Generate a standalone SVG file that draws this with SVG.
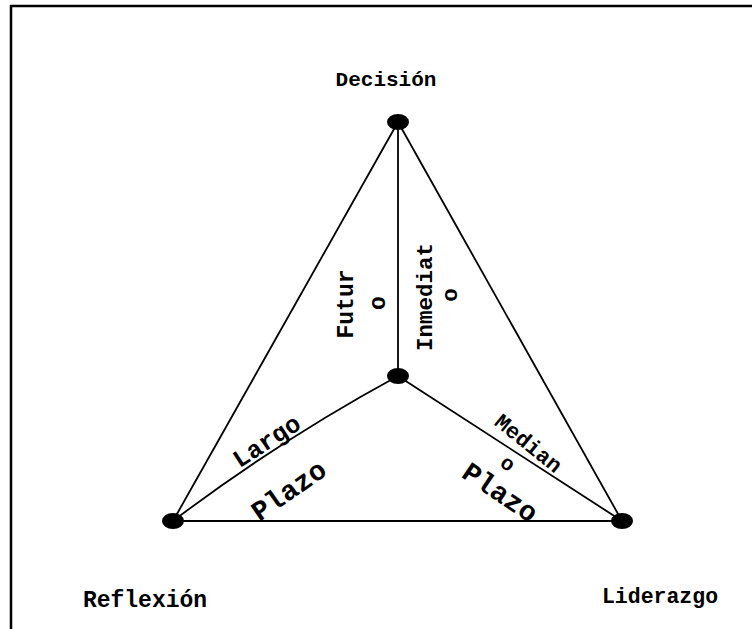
<svg xmlns="http://www.w3.org/2000/svg" width="752" height="629" viewBox="0 0 752 629">
<style>
.t{font-family:"Liberation Mono","Courier New",monospace;font-weight:bold;fill:#000}
.e{stroke:#000;stroke-width:1.8;fill:none}
.n{fill:#000}
</style>
<rect x="0" y="0" width="752" height="629" fill="#fff"/>
<path d="M11,640 V6 H760" fill="none" stroke="#000" stroke-width="2.5"/>
<g id="connectors">
<line class="e" x1="398" y1="122" x2="173" y2="521"/>
<line class="e" x1="398" y1="122" x2="622" y2="521"/>
<line class="e" x1="398" y1="122" x2="398" y2="376"/>
<path class="e" d="M173,521 Q280,440 398,376"/>
<line class="e" x1="398" y1="376" x2="622" y2="521"/>
<line class="e" x1="173" y1="521" x2="622" y2="521" stroke-width="2.5"/>
</g>
<g id="decision">
<ellipse class="n" cx="398" cy="122" rx="11" ry="8"/>
<text class="t" x="386" y="86" font-size="21" text-anchor="middle">Decisión</text>
</g>
<g id="centro">
<ellipse class="n" cx="398" cy="376" rx="11" ry="8"/>
</g>
<g id="reflexion">
<ellipse class="n" cx="173" cy="521" rx="11" ry="8"/>
<text class="t" x="145" y="607" font-size="23" text-anchor="middle">Reflexión</text>
</g>
<g id="liderazgo">
<ellipse class="n" cx="622" cy="521" rx="11" ry="8"/>
<text class="t" x="660" y="603" font-size="21.5" text-anchor="middle">Liderazgo</text>
</g>
<g id="labels">
<text class="t" font-size="23" text-anchor="middle" transform="translate(353,304) rotate(-90)">Futur</text>
<text class="t" font-size="23" text-anchor="middle" transform="translate(385,303) rotate(-90)">o</text>
<text class="t" font-size="22.5" text-anchor="middle" transform="translate(432,297) rotate(-90)">Inmediat</text>
<text class="t" font-size="22.5" text-anchor="middle" transform="translate(457,295) rotate(-90)">o</text>
<text class="t" font-size="25" text-anchor="middle" transform="translate(271,448) rotate(-33)">Largo</text>
<text class="t" font-size="28" text-anchor="middle" transform="translate(294,498) rotate(-35)">Plazo</text>
<text class="t" font-size="22" text-anchor="middle" transform="translate(524,449) rotate(39)">Median</text>
<text class="t" font-size="21" text-anchor="middle" transform="translate(504,469) rotate(34)">o</text>
<text class="t" font-size="28" text-anchor="middle" transform="translate(495,500) rotate(34)">Plazo</text>
</g>
</svg>
